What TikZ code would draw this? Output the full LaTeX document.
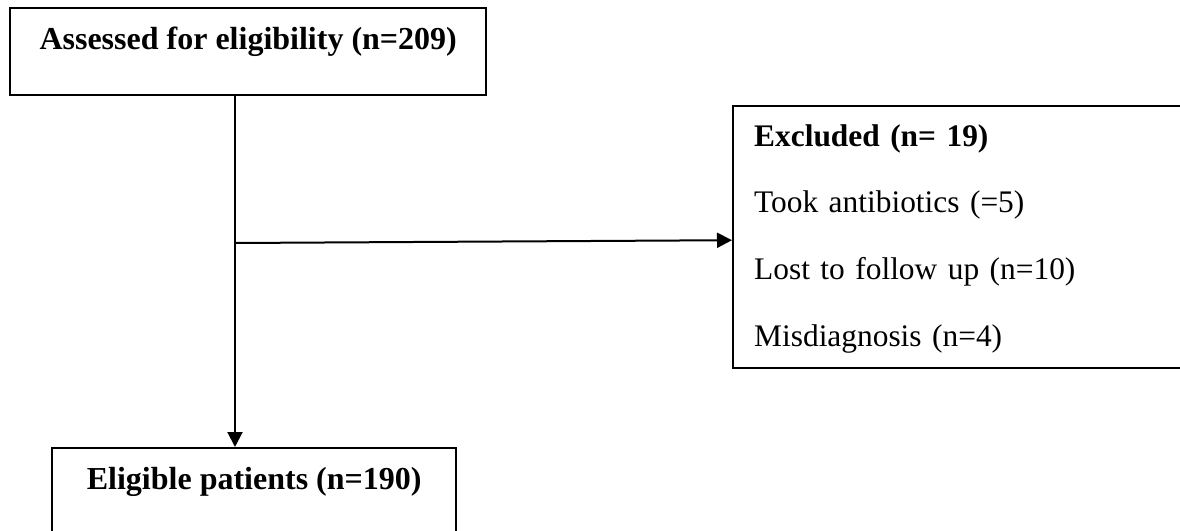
\documentclass[tikz,border=0pt]{standalone}
\usepackage{fontspec}
\setmainfont{Liberation Serif}
\usetikzlibrary{arrows.meta}

\begin{document}
\begin{tikzpicture}[x=0.5pt,y=-0.5pt,
    boite/.style={draw,line width=1.2pt,inner sep=0pt,anchor=north west,
        font=\fontsize{16}{19}\selectfont\bfseries},
    fleche/.style={line width=1pt,-{Triangle[length=7.5pt,width=7.5pt]}}]
    % Cadre
    \useasboundingbox (0,0) rectangle (1180,531);
    \clip (0,0) rectangle (1180,531);

    % Boites
    \node[boite,minimum width=238pt,text height=20.5pt,text depth=23pt]
        (assessed) at (9,7) {Assessed for eligibility (n=209)};
    \node[boite,minimum width=202pt,text height=20.5pt,text depth=40pt]
        (eligible) at (51,447) {Eligible patients (n=190)};
    \node[boite,inner xsep=10.5pt,text width=219pt,align=left,
        text height=20pt,text depth=111pt,font=\fontsize{15.7}{33.3}\selectfont]
        (excluded) at (732,105)
        {\textbf{Excluded (n= 19)}\\
        Took antibiotics (=5)\\
        Lost to follow up (n=10)\\
        Misdiagnosis (n=4)};

    % Fleches
    \coordinate (coude) at (235,243);
    \draw[fleche] (assessed.south -| coude) -- (eligible.north -| coude);
    \draw[fleche] (coude) -- ([yshift=-1.5pt]excluded.west);
\end{tikzpicture}
\end{document}
